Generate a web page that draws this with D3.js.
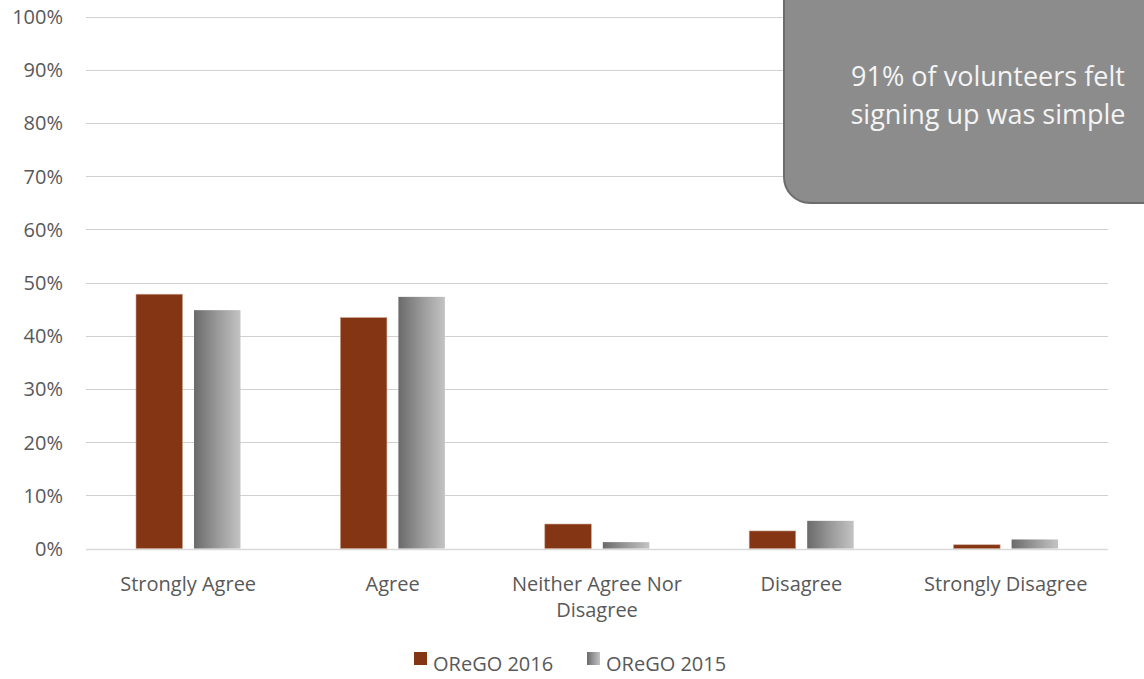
<!DOCTYPE html>
<html><head><meta charset="utf-8">
<script src="https://cdn.jsdelivr.net/npm/d3@7"></script>
<style>
body{margin:0;background:#fff;}
svg{display:block;font-family:"Open Sans","Noto Sans",sans-serif;}
</style></head>
<body>
<svg id="chart" width="1144" height="679"></svg>
<script>
const categories = ["Strongly Agree","Agree","Neither Agree Nor Disagree","Disagree","Strongly Disagree"];
const seriesNames = ["OReGO 2016","OReGO 2015"];
const values2016 = [0.478,0.434,0.046,0.033,0.007];
const values2015 = [0.448,0.473,0.012,0.052,0.017];
const yTicks = [0,0.1,0.2,0.3,0.4,0.5,0.6,0.7,0.8,0.9,1.0];
const calloutLines = ["91% of volunteers felt","signing up was simple"];

const svg = d3.select("#chart");
const W = 1144, H = 679;
const FS = 20;
const m = {left:86, right:36, top:16.5, bottom:130.5};
const x = d3.scaleBand().domain(categories).range([m.left, W - m.right]).paddingInner(0).paddingOuter(0);
const y = d3.scaleLinear().domain([0,1]).range([H - m.bottom, m.top]);

const defs = svg.append("defs");
const g = defs.append("linearGradient").attr("id","grey").attr("x1","0").attr("x2","1").attr("y1","0").attr("y2","0");
g.append("stop").attr("offset","0").attr("stop-color","#6a6a6a");
g.append("stop").attr("offset","0.5").attr("stop-color","#999");
g.append("stop").attr("offset","1").attr("stop-color","#c3c3c3");

// gridlines
svg.append("g").selectAll("line").data(yTicks).join("line")
  .attr("x1", m.left).attr("x2", W - m.right)
  .attr("y1", d => Math.round(y(d)) + 0.5).attr("y2", d => Math.round(y(d)) + 0.5)
  .attr("stroke", d => d === 0 ? "#d9d9d9" : "#d0d0d0").attr("stroke-width", d => d===0 ? 1.5 : 1.2);

// y axis labels
const yAxis = d3.axisLeft(y).tickValues(yTicks).tickFormat(d3.format(".0%")).tickSize(0).tickPadding(0);
const ya = svg.append("g").attr("transform", `translate(${63},0)`).call(yAxis);
ya.select(".domain").remove();
ya.selectAll("text").attr("font-size", FS).attr("fill", "#595959").attr("font-family","'Open Sans',sans-serif").attr("dy","0.35em");

// bars
const inner = d3.scaleBand().domain(seriesNames).range([50, 154.5]).paddingInner(0.198).paddingOuter(0);
const data = categories.map((c,i) => ({c, vals:[values2016[i], values2015[i]]}));
const cg = svg.append("g").selectAll("g").data(data).join("g")
  .attr("transform", d => `translate(${x(d.c)},0)`);
cg.selectAll("rect").data(d => d.vals.map((v,j)=>({v, s:seriesNames[j]}))).join("rect")
  .attr("x", d => inner(d.s))
  .attr("width", inner.bandwidth())
  .attr("y", d => y(d.v))
  .attr("height", d => y(0) - y(d.v))
  .attr("fill", d => d.s === seriesNames[0] ? "#843514" : "url(#grey)")
  .attr("stroke", d => d.s === seriesNames[0] ? "#c9a08c" : "none")
  .attr("stroke-width", 0.6);

// x axis labels
const xa = svg.append("g");
categories.forEach(c => {
  const cx = x(c) + x.bandwidth()/2;
  const lines = c === "Neither Agree Nor Disagree" ? ["Neither Agree Nor","Disagree"] : [c];
  const t = xa.append("text").attr("text-anchor","middle").attr("font-size",FS).attr("fill","#595959");
  lines.forEach((l,i) => t.append("tspan").attr("x",cx).attr("y", 591 + i*26).text(l));
});

// legend
const lg = svg.append("g");
const legendItems = [{s:seriesNames[0], x:414, fill:"#843514"},{s:seriesNames[1], x:587, fill:"url(#grey)"}];
legendItems.forEach(it => {
  lg.append("rect").attr("x", it.x).attr("y", 652).attr("width", 13).attr("height", 13).attr("fill", it.fill);
  lg.append("text").attr("x", it.x + 19).attr("y", 671).attr("font-size",FS).attr("fill","#595959").text(it.s);
});

// callout
svg.append("rect").attr("x",784).attr("y",-40).attr("width",400).attr("height",243)
  .attr("rx",26).attr("ry",26).attr("fill","#8c8c8c").attr("stroke","#6c6c6c").attr("stroke-width",2);
const ct = svg.append("text").attr("text-anchor","middle").attr("font-size",27).attr("fill","#f4f4f4");
calloutLines.forEach((l,i) => ct.append("tspan").attr("x",988).attr("y",86 + i*38).text(l));
</script>
</body></html>
